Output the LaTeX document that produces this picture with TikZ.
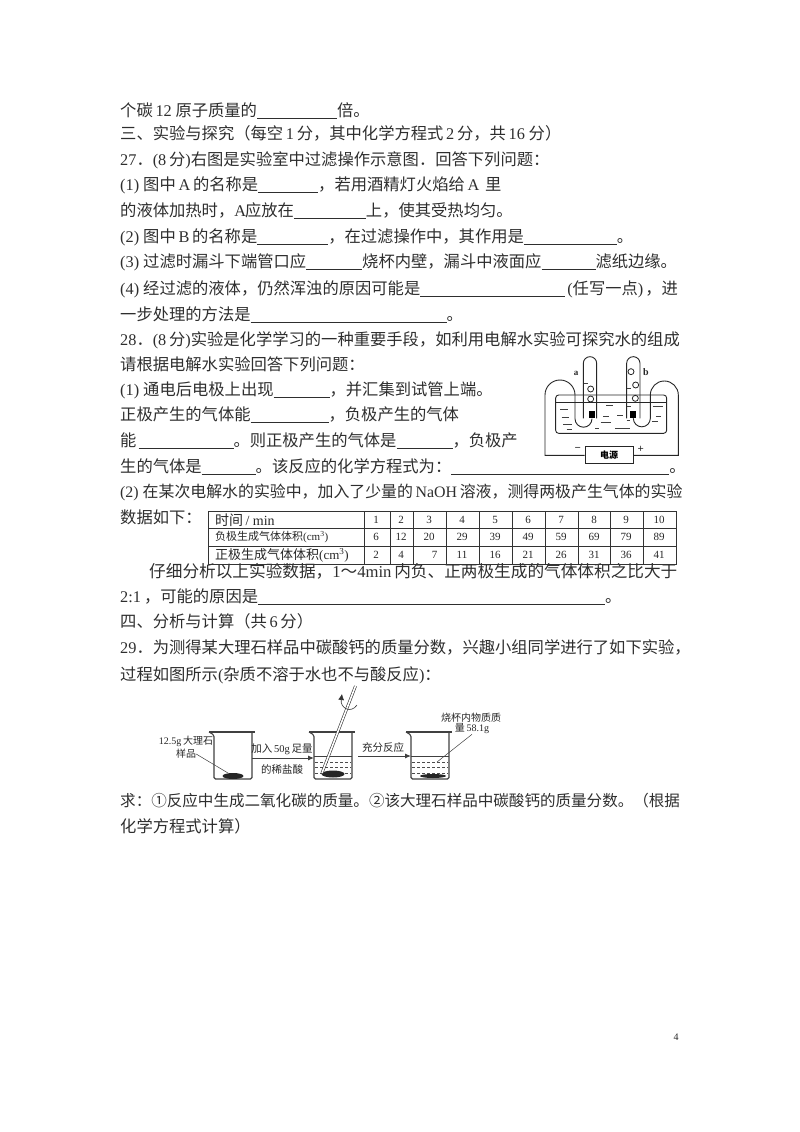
\documentclass[tikz,border=0pt]{standalone}
\usepackage{fontspec}
\setmainfont{Noto Sans CJK SC}
\newfontfamily\latfont{Liberation Serif}
\usetikzlibrary{shapes.geometric,arrows.meta}
\newcommand\la[1]{{\latfont #1}}
\newcommand\fillin[1]{\rule[-2.4pt]{#1pt}{.7pt}}
\tikzset{
  textline/.style={anchor=base west,inner sep=0pt,text=black!82,font=\fontsize{16.3}{18}\selectfont},
  smalltext/.style={inner sep=0pt,text=black!85,font=\fontsize{10}{12}\selectfont},
  cell/.style={inner sep=0pt,text=black!85,font=\latfont\fontsize{11}{13}\selectfont},
  gridline/.style={line width=.7pt,black!80},
  wire/.style={line width=.9pt,black!85},
  waterdash/.style={line width=.7pt,black!75},
  bubble/.style={draw=black!85,line width=.8pt,circle,minimum size=6pt,inner sep=0pt},
  electrode/.style={fill=black,minimum width=6pt,minimum height=7pt,inner sep=0pt},
  lump/.style={fill=black!85,ellipse,inner sep=0pt},
  flow/.style={line width=1pt,black!75,-{Latex[length=6pt,width=5pt]}},
  leader/.style={line width=.5pt,black!75},
  beaker/.pic={
    \draw[line width=1.1pt,black!75,rounded corners=1.5pt]
      (-24,-47) -- (-19,-44) -- (-19,0) -- (19,0) -- (19,-47);
    \draw[line width=1.1pt,black!75] (-24,-47) -- (22,-47);
  },
  water/.pic={
    \draw[line width=.6pt,black!75] (-19,-23) -- (19,-23);
    \foreach \d in {-17,-12,-6}
      \draw[line width=.5pt,black!70,dash pattern=on 3pt off 2pt] (-18,\d) -- (18,\d);
  },
}
\begin{document}
\begin{tikzpicture}[x=1pt,y=-1pt]
  \useasboundingbox (0,0) rectangle (800,1132);
  % question text
  \node[textline] (line_1) at (120,116) {个碳\,\la{12}\,\kern1pt原子质量的\fillin{80}倍。};
  \node[textline] (line_2) at (120,139) {三、实验与探究（每空\,\la{1}\,分，其中化学方程式\,\la{2}\,分，共\,\la{16}\,\kern1pt分）};
  \node[textline] (line_3) at (120,165) {\la{27}．\la{(8}\,分\la{)}右图是实验室中过滤操作示意图．回答下列问题：};
  \node[textline] (line_4) at (120,190) {\la{(1)}\kern4pt图中\,\la{A}\,的名称是\fillin{60}，若用酒精灯火焰给\,\la{A}\,\kern3pt里};
  \node[textline] (line_5) at (120,216) {的液体加热时，\la{A}\kern-1pt应放在\fillin{72}上，使其受热均匀。};
  \node[textline] (line_6) at (120,242) {\la{(2)}\kern4pt图中\,\la{B}\,的名称是\fillin{71}，在过滤操作中，其作用是\fillin{93}。};
  \node[textline] (line_7) at (120,267) {\la{(3)}\kern4pt过滤时漏斗下端管口应\fillin{56}烧杯内壁，漏斗中液面应\fillin{54}滤纸边缘。};
  \node[textline] (line_8) at (120,294) {\la{(4)}\kern4pt经过滤的液体，仍然浑浊的原因可能是\fillin{145}\kern2pt\la{(}任写一点\la{)}\kern2pt，进};
  \node[textline] (line_9) at (120,320) {一步处理的方法是\fillin{196}。};
  \node[textline] (line_10) at (120,345) {\la{28}．\la{(8}\,分\la{)}实验是化学学习的一种重要手段，如利用电解水实验可探究水的组成};
  \node[textline] (line_11) at (120,370) {请根据电解水实验回答下列问题：};
  \node[textline] (line_12) at (120,395) {\la{(1)}\kern4pt通电后电极上出现\fillin{56}，并汇集到试管上端。};
  \node[textline] (line_13) at (120,420) {正极产生的气体能\fillin{78}，负极产生的气体};
  \node[textline] (line_14) at (120,446) {能\kern2pt\fillin{95}。则正极产生的气体是\fillin{56}，负极产};
  \node[textline] (line_15) at (120,472) {生的气体是\fillin{54}。该反应的化学方程式为：\fillin{218}。};
  \node[textline,font=\fontsize{15.9}{18}\selectfont] (line_16) at (120,497) {\la{(2)}\kern4pt在某次电解水的实验中，加入了少量的\,\la{NaOH}\,溶液，测得两极产生气体的实验};
  \node[textline] (line_17) at (120,523) {数据如下：};
  \node[textline,font=\fontsize{16.65}{18}\selectfont] (line_18) at (149,577) {仔细分析以上实验数据，\la{1}～\la{4min}\,内负、正两极生成的气体体积之比大于};
  \node[textline] (line_19) at (120,602) {\la{2:1}\kern3pt，可能的原因是\fillin{347}。};
  \node[textline] (line_20) at (120,627) {四、分析与计算（共\,\la{6}\,分）};
  \node[textline] (line_21) at (120,653) {\la{29}．为测得某大理石样品中碳酸钙的质量分数，兴趣小组同学进行了如下实验，};
  \node[textline] (line_22) at (120,680) {过程如图所示\la{(}杂质不溶于水也不与酸反应\la{)}：};
  \node[textline,font=\fontsize{15.55}{18}\selectfont] (line_23) at (120,806) {求：①反应中生成二氧化碳的质量。②该大理石样品中碳酸钙的质量分数。（根据};
  \node[textline] (line_24) at (120,832) {化学方程式计算）};
  \node[cell,font=\latfont\fontsize{10}{12}\selectfont] (page_no) at (676,1037) {4};
  % electrolysis apparatus
  \begin{scope}[shift={(530,340)},x=.3333pt,y=-.3333pt]
    \draw[wire,rounded corners=3pt] (77,165) -- (77,280) -- (410,280) -- (410,165) -- cycle;
    \draw[wire] (77,188) -- (410,188);
    \draw[wire] (160,235) -- (160,70) arc[start angle=180,end angle=0,radius=6.67pt] -- (200,235);
    \draw[wire] (290,235) -- (290,70) arc[start angle=180,end angle=0,radius=6.67pt] -- (330,235);
    \node[electrode] (elec_a) at (186,225) {};
    \node[electrode] (elec_b) at (310,225) {};
    \node[draw=black!85,line width=.9pt,minimum width=48pt,minimum height=17pt,inner sep=0pt,
      font=\bfseries\fontsize{9}{10}\selectfont] (power) at (237,346) {电源};
    \draw[wire] (elec_a.south) arc[start angle=0,end angle=-180,radius=8.5pt] -- (135,165)
      arc[start angle=0,end angle=180,radius=15pt] |- (power.west);
    \draw[wire] (power.east) -| (445,165) arc[start angle=0,end angle=180,radius=14pt]
      -- (361,235) arc[start angle=0,end angle=-180,radius=8.5pt] -- (elec_b.south);
    \foreach \x/\y in {182/147,182/177,303/95,317/135,316/175}
      \node[bubble] at (\x,\y) {};
    \foreach \x/\y/\l in {90/208/25,95/232/22,100/252/25,110/268/15,228/197/22,220/230/18,
      212/248/30,262/225/18,255/265/45,195/265/12,368/200/30,378/230/15,365/245/20,
      290/240/10,162/130/12,292/145/12,292/198/10}
      \draw[waterdash] (\x,\y) -- ++(\l,0);
    \node[cell,font=\latfont\bfseries\fontsize{9}{10}\selectfont] (tube_a) at (138,100) {a};
    \node[cell,font=\latfont\bfseries\fontsize{10}{11}\selectfont] (tube_b) at (348,97) {b};
    \node[cell] (minus) at (143,327) {\textbf{−}};
    \node[cell] (plus) at (332,327) {\textbf{+}};
  \end{scope}
  % data table
  \draw[gridline] (208,511) rectangle (676,564);
  \draw[gridline] (208,528) -- (676,528);
  \draw[gridline] (208,546) -- (676,546);
  \foreach \x in {364,390,413,446,479,512,545,578,610,643}
    \draw[gridline] (\x,511) -- (\x,564);
  \node[smalltext,anchor=west,font=\fontsize{14}{16}\selectfont] (row_time) at (215,520) {时间\,\la{/ min}};
  \node[smalltext,anchor=west,font=\fontsize{11}{12}\selectfont] (row_neg) at (215,537) {负极生成气体体积\la{(cm\textsuperscript{3})}};
  \node[smalltext,anchor=west,font=\fontsize{13}{15}\selectfont] (row_pos) at (215,555) {正极生成气体体积\la{(cm\textsuperscript{3})}};
  \foreach \x/\ta/\na/\pa in {376/1/6/2,401/2/12/4,429/3/20/{\phantom{00}7},462/4/29/11,495/5/39/16,
    528/6/49/21,561/7/59/26,594/8/69/31,626/9/79/36,659/10/89/41} {
    \node[cell] at (\x,520) {\ta};
    \node[cell] at (\x,537) {\na};
    \node[cell] at (\x,555) {\pa};
  }
  % marble and acid experiment
  \pic at (233,779) {beaker};
  \pic at (333,779) {beaker};
  \pic at (430,779) {beaker};
  \pic at (333,779) {water};
  \pic at (430,779) {water};
  \node[lump,minimum width=21pt,minimum height=6pt] (lump_a) at (233,776) {};
  \node[lump,minimum width=23pt,minimum height=7pt] (lump_b) at (333,774) {};
  \node[lump,minimum width=26pt,minimum height=4pt] (lump_c) at (433,776) {};
  \coordinate (rod_low) at (322,773);
  \coordinate (rod_top) at (355.5,686);
  \draw[double=white,double distance=1.6pt,line width=.6pt,black!80] (rod_low) -- (rod_top);
  \coordinate (gas_from) at (357,705);
  \coordinate (gas_tip) at (342,694);
  \draw[line width=.6pt,black!80,-{Latex[length=6pt,width=6pt]}] (gas_from) .. controls (351,714) and (340,708) .. (gas_tip);
  \node[smalltext] (sample_a) at (186,741) {\la{12.5g}\,大理石};
  \node[smalltext] (sample_b) at (186,754) {样品};
  \node[smalltext,font=\fontsize{10.5}{12}\selectfont] (add_a) at (282,749) {加入\,\la{50g}\,足量};
  \node[smalltext,font=\fontsize{10.5}{12}\selectfont] (add_b) at (282,769) {的稀盐酸};
  \node[smalltext,font=\fontsize{10.5}{12}\selectfont] (react) at (383,747) {充分反应};
  \node[smalltext] (mass_a) at (471,718) {烧杯内物质质};
  \node[smalltext] (mass_b) at (472,729) {量\,\la{58.1g}};
  \coordinate (acid_from) at (252,758);
  \coordinate (acid_to) at (314,758);
  \coordinate (react_from) at (358,756);
  \coordinate (react_to) at (411,756);
  \coordinate (mass_in) at (437,762);
  \draw[flow] (acid_from) -- (acid_to);
  \draw[flow] (react_from) -- (react_to);
  \draw[leader] (sample_b.east) -- (lump_a);
  \draw[leader] (mass_b.south) -- (mass_in);
\end{tikzpicture}
\end{document}
